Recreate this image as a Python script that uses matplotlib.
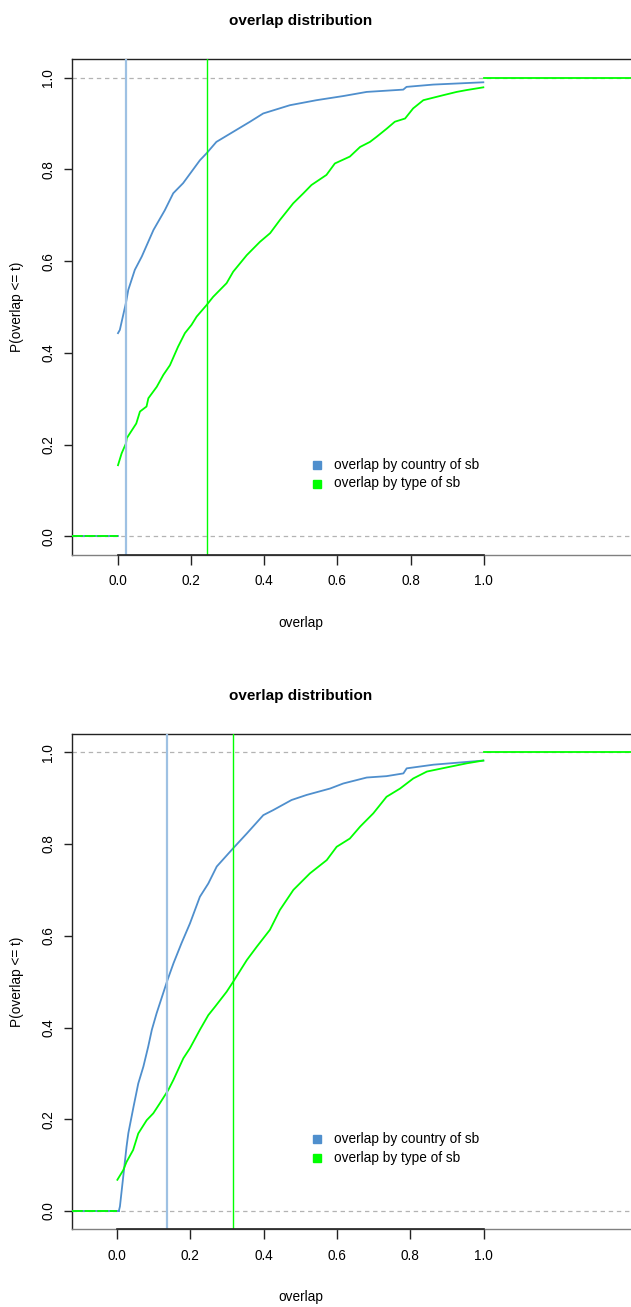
import numpy as np
import matplotlib.pyplot as plt
from matplotlib.lines import Line2D

plt.rcParams['font.family'] = ['Liberation Sans', 'DejaVu Sans']

# --- veriler (resimden okunan ECDF noktalari) ---
# ust panel
ust_ulke_x = [0.0, 0.005, 0.022, 0.028, 0.046, 0.065, 0.097, 0.128, 0.151, 0.178, 0.224, 0.242,
              0.269, 0.315, 0.361, 0.397, 0.470, 0.543, 0.616, 0.680, 0.780, 0.789, 0.862, 0.999]
ust_ulke_y = [0.443, 0.450, 0.510, 0.537, 0.581, 0.610, 0.668, 0.711, 0.748, 0.770, 0.820, 0.835,
              0.860, 0.882, 0.904, 0.922, 0.940, 0.951, 0.960, 0.969, 0.974, 0.980, 0.985, 0.990]
ust_tip_x = [0.0, 0.010, 0.022, 0.024, 0.050, 0.060, 0.078, 0.083, 0.106, 0.124, 0.142, 0.164,
             0.183, 0.201, 0.215, 0.242, 0.260, 0.297, 0.315, 0.352, 0.388, 0.416, 0.443, 0.479,
             0.507, 0.529, 0.570, 0.593, 0.634, 0.662, 0.689, 0.707, 0.735, 0.757, 0.785, 0.807,
             0.835, 0.890, 0.926, 0.953, 0.999]
ust_tip_y = [0.155, 0.181, 0.203, 0.214, 0.246, 0.272, 0.283, 0.301, 0.326, 0.352, 0.373, 0.413,
             0.443, 0.461, 0.479, 0.504, 0.522, 0.552, 0.577, 0.613, 0.642, 0.661, 0.690, 0.726,
             0.748, 0.766, 0.788, 0.813, 0.828, 0.849, 0.860, 0.871, 0.889, 0.904, 0.911, 0.933,
             0.951, 0.962, 0.969, 0.973, 0.979]
ust_medyan = [0.021, 0.2425]

# alt panel
alt_ulke_x = [0.005, 0.008, 0.017, 0.026, 0.031, 0.045, 0.058, 0.072, 0.085, 0.095, 0.108, 0.126,
              0.137, 0.154, 0.176, 0.199, 0.226, 0.249, 0.272, 0.317, 0.354, 0.399, 0.426, 0.476,
              0.517, 0.581, 0.617, 0.681, 0.735, 0.781, 0.790, 0.863, 0.999]
alt_ulke_y = [0.0, 0.010, 0.075, 0.140, 0.170, 0.227, 0.278, 0.315, 0.358, 0.395, 0.431, 0.475,
              0.502, 0.540, 0.584, 0.627, 0.685, 0.714, 0.751, 0.791, 0.823, 0.863, 0.874, 0.896,
              0.907, 0.921, 0.932, 0.945, 0.948, 0.954, 0.965, 0.973, 0.982]
alt_tip_x = [0.001, 0.017, 0.026, 0.044, 0.058, 0.081, 0.099, 0.117, 0.140, 0.154, 0.181, 0.199,
             0.226, 0.249, 0.267, 0.299, 0.317, 0.354, 0.381, 0.417, 0.444, 0.481, 0.526, 0.572,
             0.599, 0.635, 0.663, 0.699, 0.735, 0.772, 0.808, 0.845, 0.899, 0.954, 0.999]
alt_tip_y = [0.068, 0.089, 0.107, 0.133, 0.169, 0.198, 0.213, 0.235, 0.264, 0.286, 0.333, 0.355,
             0.395, 0.427, 0.445, 0.478, 0.500, 0.547, 0.576, 0.613, 0.656, 0.700, 0.736, 0.765,
             0.794, 0.812, 0.838, 0.867, 0.903, 0.921, 0.943, 0.958, 0.967, 0.976, 0.982]
alt_medyan = [0.136, 0.317]

etiketler = ['overlap by country of sb', 'overlap by type of sb']
x_ticks = [0.0, 0.2, 0.4, 0.6, 0.8, 1.0]
y_ticks = [0.0, 0.2, 0.4, 0.6, 0.8, 1.0]

MAVI = '#4F8FCD'
ACIK_MAVI = '#9EC1E3'
YESIL = '#00FF00'

W, H = 631, 1307
fig = plt.figure(figsize=(W / 100, H / 100), dpi=100)


def panel_ciz(ust_px, alt_px, x0_px, x1_px, y0_px, y1_px, ulke_x, ulke_y, tip_x, tip_y, medyan):
    # eksen alanini piksel olculerinden kur
    sol = 72
    ax = fig.add_axes([sol / W, 1 - alt_px / H, 1 - sol / W, (alt_px - ust_px) / H])
    xs = (x1_px - x0_px)
    ys = (y0_px - y1_px)
    ax.set_xlim((sol - x0_px) / xs, (W - x0_px) / xs)
    ax.set_ylim((y0_px - alt_px) / ys, (y0_px - ust_px) / ys)
    xmin, xmax = ax.get_xlim()

    # ECDF egrileri + sol/sag uzantilar
    ax.plot([xmin, ulke_x[0]], [0, 0], color=MAVI, lw=1.3, zorder=3)
    ax.plot(ulke_x, ulke_y, color=MAVI, lw=1.3, zorder=3)
    ax.axhline(0, color='#B3B3B3', lw=0.9, ls=(0, (3.5, 3)), zorder=2)
    ax.axhline(1, color='#B3B3B3', lw=0.9, ls=(0, (3.5, 3)), zorder=2)
    ax.plot([xmin, tip_x[0]], [0, 0], color=YESIL, lw=1.3, ls=(0, (6, 1)), zorder=4)
    ax.plot(tip_x, tip_y, color=YESIL, lw=1.3, zorder=4)
    ax.plot([1.0, xmax], [1, 1], color=YESIL, lw=1.3, zorder=4)

    # medyan cizgileri
    ax.axvline(medyan[0], color=ACIK_MAVI, lw=1.6, zorder=5)
    ax.axvline(medyan[1], color=YESIL, lw=1.0, zorder=5)

    # eksenler (R tarzi)
    ax.spines['right'].set_visible(False)
    ax.spines['bottom'].set_color('#808080')
    for s in ['left', 'top']:
        ax.spines[s].set_color('#222222')
    for s in ax.spines.values():
        s.set_linewidth(1.0)
    ax.plot([0, 1], [0, 0], color='#222222', lw=1.2, transform=ax.get_xaxis_transform(),
            clip_on=False, zorder=6)
    ax.set_xticks(x_ticks)
    ax.set_xticklabels([f'{v:.1f}' for v in x_ticks])
    ax.set_yticks(y_ticks)
    ax.set_yticklabels([f'{v:.1f}' for v in y_ticks], rotation=90, va='center')
    ax.tick_params(axis='x', length=7, width=1.0, pad=7, labelsize=9.8, color='#222222')
    ax.tick_params(axis='y', length=6, width=1.0, pad=6, labelsize=9.8, color='#222222')

    # baslik ve eksen yazilari
    fig.text(300.5 / W, 1 - (ust_px - 38) / H, 'overlap distribution', ha='center', va='center',
             fontsize=11, fontweight='bold')
    fig.text(300.5 / W, 1 - (alt_px + 67.5) / H, 'overlap', ha='center', va='center', fontsize=9.8)
    fig.text(17 / W, 1 - (ust_px + alt_px) / 2 / H, 'P(overlap <= t)', ha='center', va='center',
             rotation=90, fontsize=9.8)

    # lejant (cercevesiz)
    for i, (lbl, renk) in enumerate(zip(etiketler, [MAVI, YESIL])):
        yy = 1 - (alt_px - 90.5 + i * 19) / H
        fig.add_artist(Line2D([317 / W], [yy], marker='s', markersize=6.3, color=renk, ls='none'))
        fig.text(334 / W, yy, lbl, ha='left', va='center', fontsize=9.8)
    return ax


panel_ciz(59, 555, 118, 483.7, 536.3, 77.7, ust_ulke_x, ust_ulke_y, ust_tip_x, ust_tip_y, ust_medyan)
panel_ciz(734, 1229.3, 117, 483.7, 1211, 752.3, alt_ulke_x, alt_ulke_y, alt_tip_x, alt_tip_y, alt_medyan)

fig.savefig('out.png', dpi=100)
